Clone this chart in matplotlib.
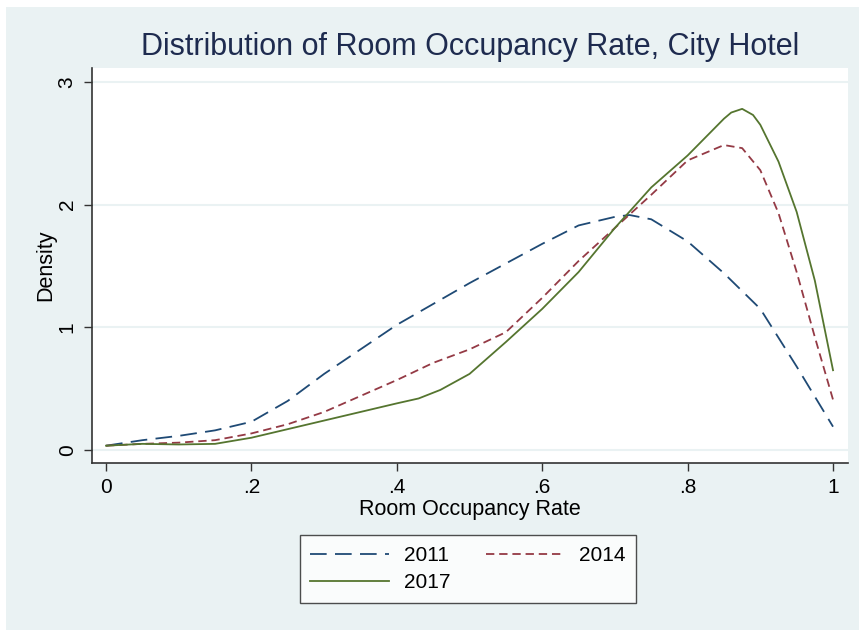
import numpy as np
import matplotlib
matplotlib.use("Agg")
import matplotlib.pyplot as plt
from matplotlib.patches import Rectangle

plt.rcParams['font.family'] = ['Liberation Sans', 'DejaVu Sans']
plt.rcParams['lines.scale_dashes'] = False

# density curves
x_2011 = [0, .05, .1, .15, .2, .25, .3, .35, .4, .45, .5, .55, .6, .65, .7, .72, .75, .8, .85, .9, .95, 1]
y_2011 = [0.035, 0.08, 0.115, 0.16, 0.23, 0.40, 0.62, 0.82, 1.02, 1.19, 1.36, 1.52, 1.68, 1.83, 1.90, 1.915,
          1.88, 1.70, 1.44, 1.15, 0.68, 0.19]

x_2014 = [0, .05, .1, .15, .2, .25, .3, .35, .4, .45, .5, .55, .6, .65, .7, .75, .8, .85, .875, .9, .925, .95,
          .975, 1]
y_2014 = [0.035, 0.05, 0.06, 0.08, 0.135, 0.21, 0.31, 0.44, 0.57, 0.71, 0.82, 0.96, 1.24, 1.54, 1.81, 2.08,
          2.36, 2.485, 2.46, 2.28, 1.93, 1.45, 0.92, 0.41]

x_2017 = [0, .05, .1, .15, .2, .25, .3, .35, .4, .43, .46, .5, .55, .6, .65, .7, .75, .8, .85, .86, .875, .89,
          .9, .925, .95, .975, 1]
y_2017 = [0.035, 0.05, 0.045, 0.05, 0.10, 0.17, 0.24, 0.31, 0.38, 0.42, 0.49, 0.62, 0.88, 1.15, 1.45, 1.81,
          2.14, 2.40, 2.70, 2.75, 2.78, 2.73, 2.65, 2.35, 1.94, 1.38, 0.65]

x_ticks = [0, .2, .4, .6, .8, 1]
x_ticklabels = ['0', '.2', '.4', '.6', '.8', '1']
y_ticks = [0, 1, 2, 3]

bg = '#eaf2f3'
fig = plt.figure(figsize=(8.59, 6.3), dpi=100, facecolor='white')
fig.patches.append(Rectangle((6 / 859, 0), 1, 1 - 7 / 630, transform=fig.transFigure,
                             facecolor=bg, edgecolor='none', zorder=-10))

ax = fig.add_axes([92 / 859, 1 - 463 / 630, (848 - 92) / 859, (463 - 68) / 630])
ax.set_facecolor('white')

l11, = ax.plot(x_2011, y_2011, color='#1f4a75', lw=1.3, dashes=(12, 6), label='2011')
l14, = ax.plot(x_2014, y_2014, color='#943a45', lw=1.3, dashes=(6, 3.5), label='2014')
l17, = ax.plot(x_2017, y_2017, color='#55752f', lw=1.3, label='2017')

ax.set_xlim(-0.0193, 1.0206)
ax.set_ylim(-0.106, 3.113)
ax.set_xticks(x_ticks)
ax.set_xticklabels(x_ticklabels)
ax.set_yticks(y_ticks)
ax.set_yticklabels([str(v) for v in y_ticks], rotation=90, va='center')
ax.tick_params(labelsize=15, length=6, width=1, color='#333333', pad=5)
ax.grid(axis='y', color=bg, lw=1.5)
ax.set_axisbelow(True)

for s in ['top', 'right']:
    ax.spines[s].set_visible(False)
for s in ['left', 'bottom']:
    ax.spines[s].set_color('#333333')
    ax.spines[s].set_linewidth(1.2)

ax.set_xlabel('Room Occupancy Rate', fontsize=15.5, labelpad=1)
ax.set_ylabel('Density', fontsize=15.5, labelpad=1)

fig.text(470 / 859, 1 - 47 / 630, 'Distribution of Room Occupancy Rate, City Hotel',
         fontsize=22, color='#1e2b4f', ha='center', va='center')

# matplotlib fills legend columns first, so order handles to get 2011 2014 / 2017
leg = ax.legend([l11, l17, l14], ['2011', '2017', '2014'], ncol=2, loc='center',
                bbox_to_anchor=(468 / 859, 1 - 569 / 630),
                bbox_transform=fig.transFigure, fontsize=15, frameon=True, fancybox=False,
                edgecolor='#222222', handlelength=3.8, handletextpad=0.7, columnspacing=1.7,
                borderpad=0.5, labelspacing=0.4)
leg.get_frame().set_linewidth(1.0)

fig.savefig('out.png', dpi=100, facecolor=fig.get_facecolor())
